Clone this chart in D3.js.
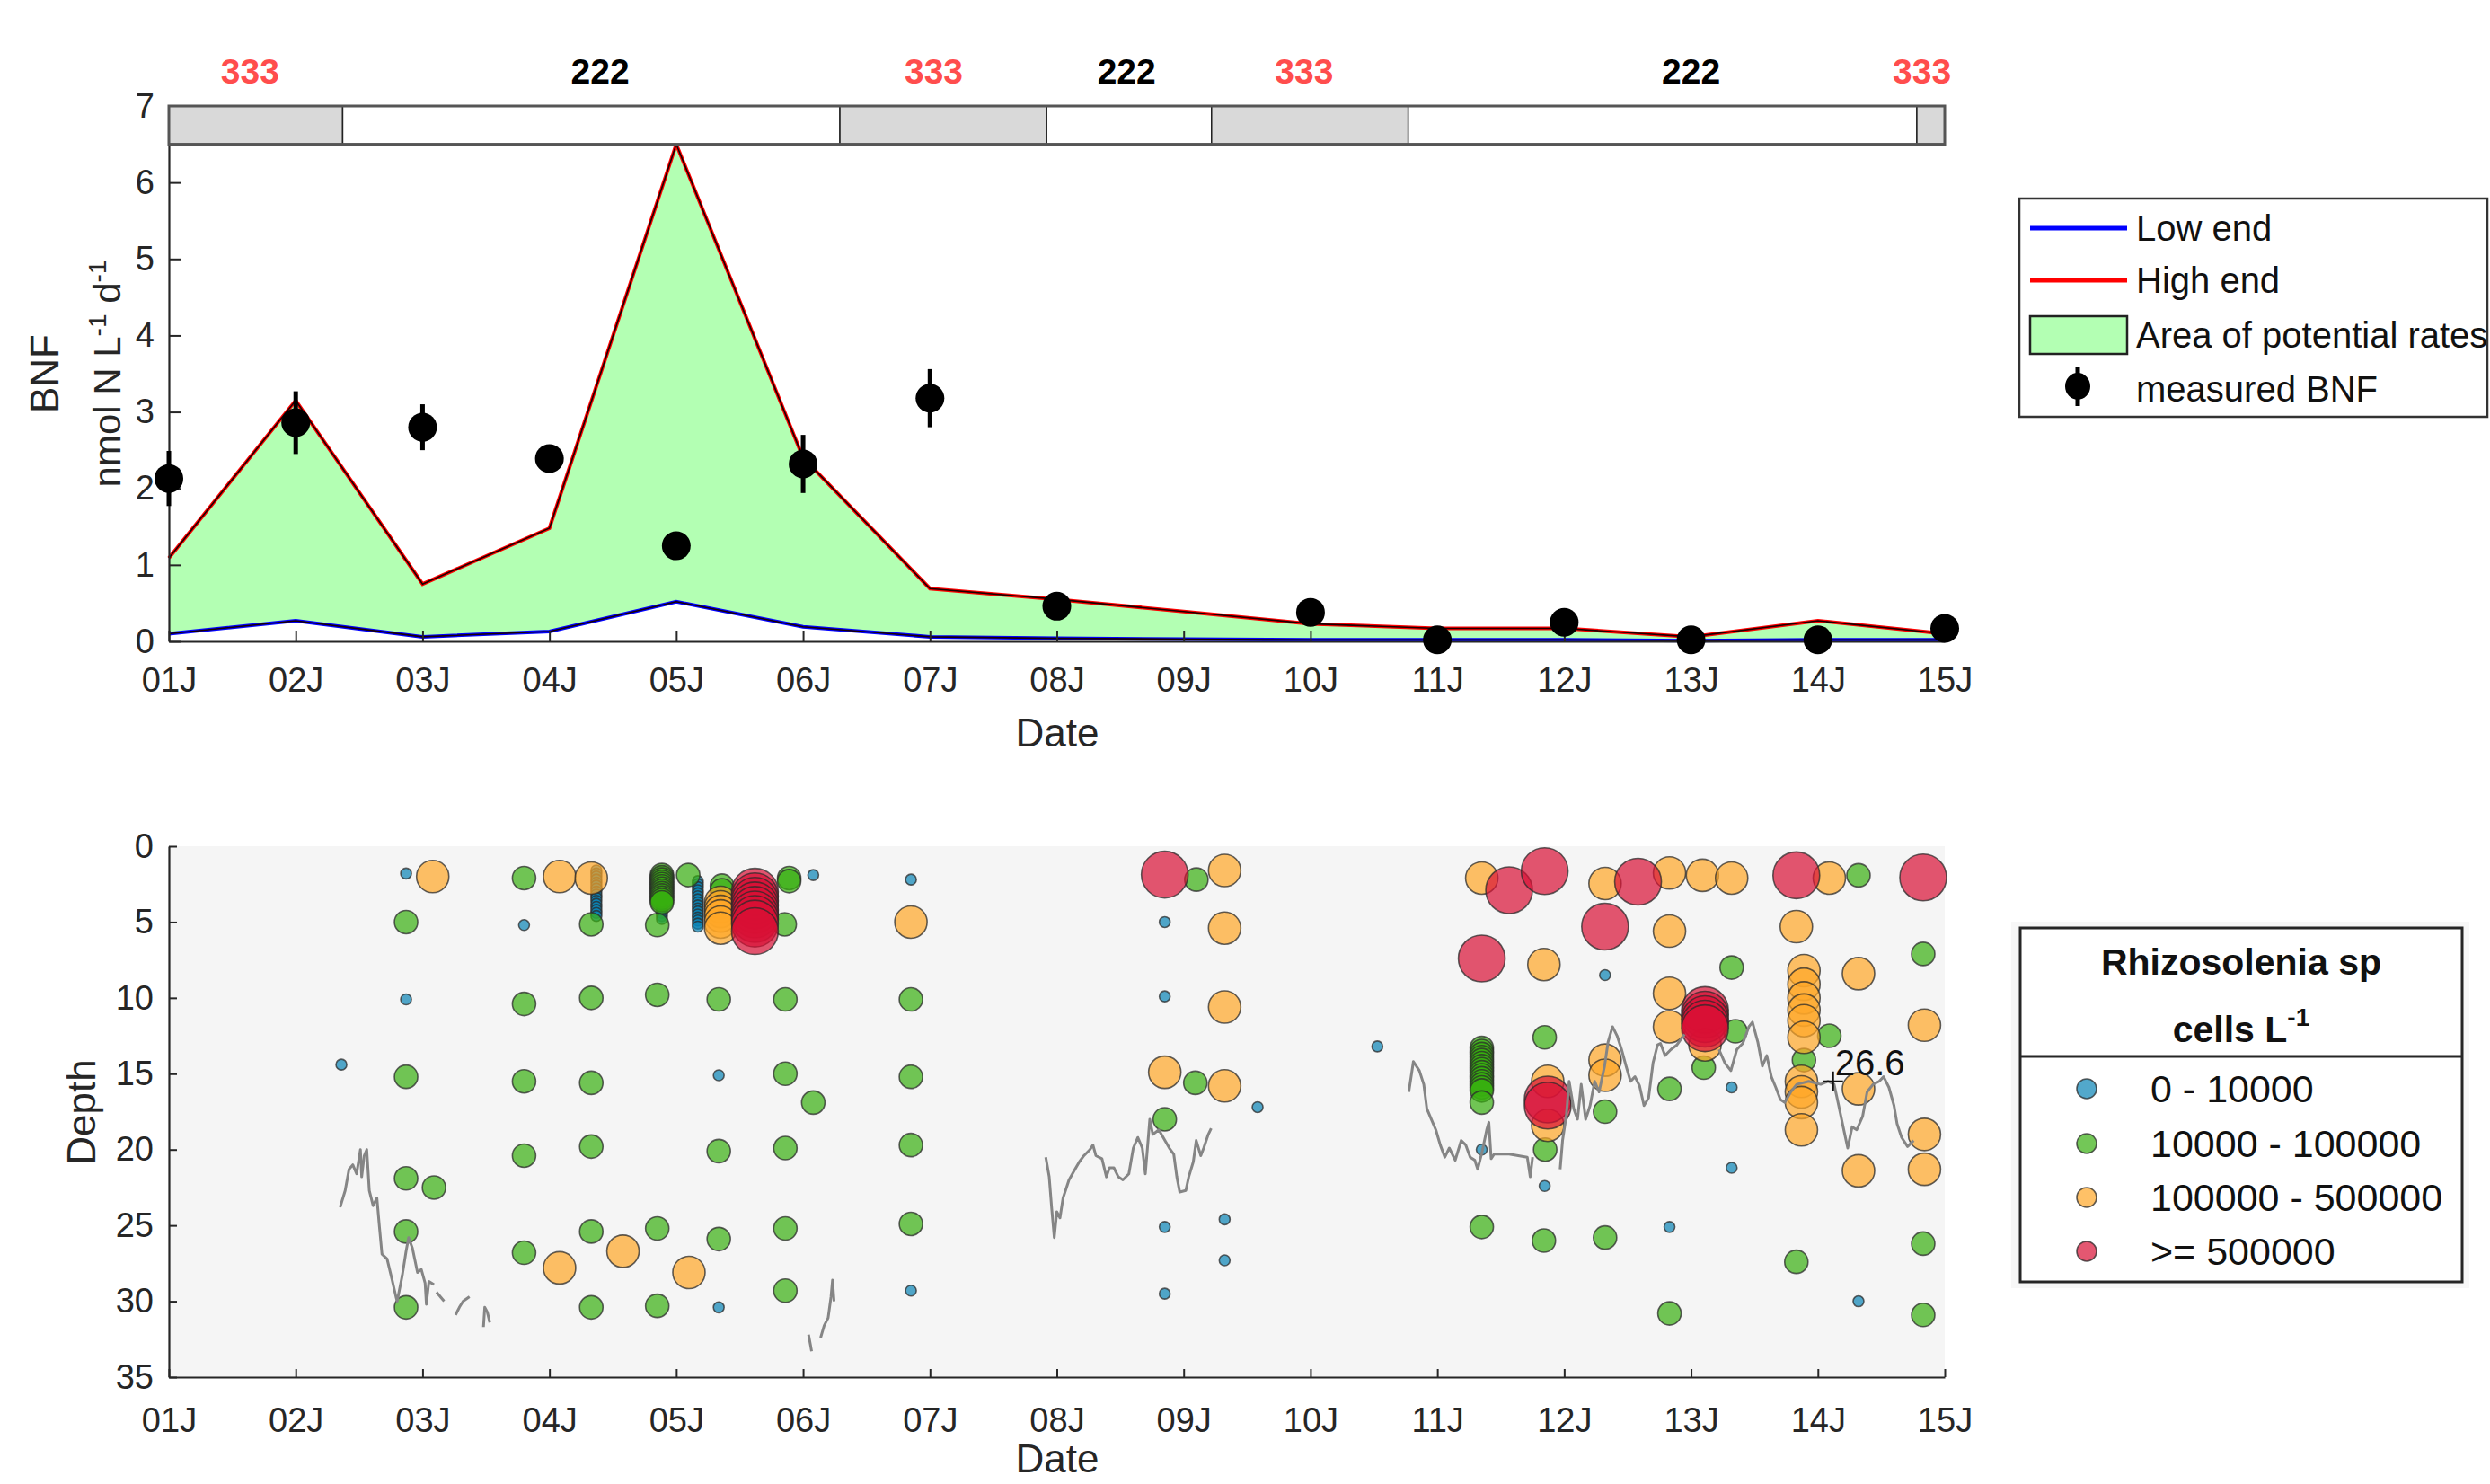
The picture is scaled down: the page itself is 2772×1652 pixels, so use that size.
<!DOCTYPE html>
<html>
<head>
<meta charset="utf-8">
<script src="https://cdn.jsdelivr.net/npm/d3@7"></script>
<style>
  html, body { margin: 0; padding: 0; background: #fff; }
  svg { display: block; }
</style>
</head>
<body>
<svg id="chart"></svg>
<script>
// ---- data ----
const dayLabels = ["01J", "02J", "03J", "04J", "05J", "06J", "07J", "08J", "09J", "10J", "11J", "12J", "13J", "14J", "15J"];
const rateDays = [0, 1, 2, 3, 4, 5, 6, 7, 8, 9, 10, 11, 12, 13, 14];
const highEnd = [1.09, 3.15, 0.75, 1.48, 6.50, 2.40, 0.69, 0.55, 0.39, 0.23, 0.17, 0.17, 0.06, 0.27, 0.10];
const lowEnd = [0.10, 0.27, 0.06, 0.13, 0.52, 0.19, 0.06, 0.04, 0.03, 0.02, 0.02, 0.02, 0.01, 0.02, 0.02];

const bnfDays = [0, 1, 2, 3, 4, 5, 6, 7, 9, 10, 11, 12, 13, 14];
const bnfMean = [2.13, 2.86, 2.80, 2.39, 1.25, 2.32, 3.18, 0.46, 0.38, 0.02, 0.25, 0.02, 0.02, 0.17];
const bnfErr = [0.36, 0.41, 0.30, 0.06, 0.05, 0.38, 0.38, 0.05, 0.05, 0.03, 0.05, 0.03, 0.03, 0.04];

// station zones shown in the strip above the BNF panel
const zoneStart = [0, 1.37, 5.29, 6.92, 8.22, 9.77, 13.78];
const zoneEnd = [1.37, 5.29, 6.92, 8.22, 9.77, 13.78, 14];
const zoneCode = ["333", "222", "333", "222", "333", "222", "333"];
const zoneLabelDay = [0.64, 3.40, 6.03, 7.55, 8.95, 12.0, 13.82];

// Rhizosolenia counts, [day, depth] per abundance class
const cellsLow = [
  [1.87, 1.8], [2.80, 5.2], [1.87, 10.1], [1.36, 14.4],
  [3.37, 1.6], [3.37, 1.8], [3.37, 2.0], [3.37, 2.2], [3.37, 2.4], [3.37, 2.6], [3.37, 2.8], [3.37, 3.0],
  [3.37, 3.2], [3.37, 3.4], [3.37, 3.6], [3.37, 3.8], [3.37, 4.0], [3.37, 4.2], [3.37, 4.4], [3.37, 4.6],
  [3.887, 3.8], [3.887, 4.0], [3.887, 4.2], [3.887, 4.4], [3.887, 4.6], [3.887, 4.8],
  [4.17, 2.3], [4.17, 2.5], [4.17, 2.7], [4.17, 2.9], [4.17, 3.1], [4.17, 3.3], [4.17, 3.5], [4.17, 3.7],
  [4.17, 3.9], [4.17, 4.1], [4.17, 4.3], [4.17, 4.5], [4.17, 4.7], [4.17, 4.9], [4.17, 5.1], [4.17, 5.3],
  [5.08, 1.9], [5.85, 2.2], [4.335, 15.1], [4.335, 30.4], [5.85, 29.3],
  [7.851, 5.0], [7.851, 9.9], [9.527, 13.2], [8.583, 17.2], [7.851, 25.1], [8.323, 24.6],
  [8.323, 27.3], [7.851, 29.5], [10.35, 20.0],
  [11.322, 8.5], [12.32, 15.9], [10.846, 22.4], [12.32, 21.2], [11.83, 25.1], [13.32, 30.0]
];
const cellsMid = [
  [2.80, 2.1], [1.87, 5.0], [3.33, 5.15], [2.80, 10.4], [3.33, 10.0], [1.87, 15.2], [2.80, 15.5],
  [3.33, 15.6], [2.80, 20.4], [3.33, 19.8], [1.87, 21.9], [2.09, 22.5], [1.87, 25.4], [2.80, 26.8],
  [3.33, 25.4], [1.87, 30.4], [3.33, 30.4],
  [3.887, 1.9], [3.887, 2.05], [3.887, 2.2], [3.887, 2.35], [3.887, 2.5], [3.887, 2.65], [3.887, 2.8],
  [3.887, 2.95], [3.887, 3.1], [3.887, 3.25], [3.887, 3.4], [3.887, 3.55], [3.887, 3.7],
  [3.85, 5.2], [4.094, 1.9], [4.36, 2.6], [4.36, 2.9], [4.89, 2.1], [4.89, 2.3], [4.855, 5.15],
  [3.85, 9.8], [4.335, 10.1], [4.86, 10.1], [5.85, 10.1], [4.86, 15.0], [5.08, 16.9], [5.85, 15.2],
  [4.335, 20.1], [4.86, 19.9], [5.85, 19.7], [3.85, 25.2], [4.335, 25.9], [4.86, 25.2], [5.85, 24.9],
  [3.85, 30.3], [4.86, 29.3],
  [8.10, 2.2], [8.092, 15.6], [7.851, 18.0],
  [10.35, 13.3], [10.35, 13.5], [10.35, 13.7], [10.35, 13.9], [10.35, 14.1], [10.35, 14.3], [10.35, 14.5],
  [10.35, 14.7], [10.35, 14.9], [10.35, 15.1], [10.35, 15.3], [10.35, 15.5], [10.35, 15.7], [10.35, 15.9],
  [10.35, 16.1], [10.35, 16.9], [10.35, 25.1],
  [13.32, 1.92], [12.32, 8.0], [13.83, 7.1], [12.35, 12.2], [12.1, 14.6], [11.83, 16.0],
  [13.09, 12.5], [12.89, 14.1], [10.846, 12.6], [11.322, 17.5], [10.85, 20.0], [10.84, 26.0],
  [11.322, 25.8], [12.83, 27.4], [13.83, 26.2], [11.83, 30.8], [13.83, 30.9]
];
const cellsHigh = [
  [2.08, 2.0], [3.08, 2.0], [3.33, 2.1], [3.08, 27.8], [3.58, 26.7],
  [4.35, 3.7], [4.35, 4.0], [4.35, 4.3], [4.35, 4.6], [4.35, 5.0], [4.35, 5.4],
  [5.85, 5.0], [4.10, 28.1],
  [8.323, 1.6], [8.323, 5.4], [8.323, 10.6], [7.851, 14.9], [8.323, 15.8], [10.35, 2.1],
  [11.322, 2.46], [11.83, 1.76], [12.09, 1.92], [12.32, 2.1], [13.09, 2.1], [11.83, 5.6],
  [12.83, 5.3], [10.84, 7.8],
  [12.89, 8.2], [12.89, 9.1], [12.89, 10.0], [12.89, 10.8], [12.89, 11.5], [12.89, 12.6],
  [12.87, 15.5], [12.87, 16.2], [12.87, 16.9], [12.87, 18.7],
  [13.32, 8.4], [11.83, 9.7], [11.83, 11.9], [12.11, 13.1], [13.32, 16.0], [13.84, 11.8],
  [13.84, 19.0], [13.32, 21.4], [13.84, 21.3], [11.322, 14.1], [11.322, 15.1],
  [10.87, 15.5], [10.87, 18.4]
];
const cellsBloom = [
  [7.851, 1.87], [10.566, 2.9], [10.35, 7.4],
  [4.62, 3.0], [4.62, 3.3], [4.62, 3.6], [4.62, 3.9], [4.62, 4.2], [4.62, 4.5], [4.62, 4.8],
  [4.62, 5.1], [4.62, 5.6],
  [10.846, 1.64], [11.582, 2.34], [12.83, 1.92], [13.83, 2.06], [11.322, 5.3],
  [12.11, 10.8], [12.11, 11.1], [12.11, 11.4], [12.11, 11.7], [12.11, 12.0],
  [10.87, 16.7], [10.87, 17.1]
];
const classNames = ["0 - 10000", "10000 - 100000", "100000 - 500000", ">= 500000"];

// depth of the 26.6 isopycnal, [day, depth], broken into traced pieces
const isoPieces = [
  [[1.35, 23.8], [1.39, 22.7], [1.42, 21.3], [1.45, 21.0], [1.48, 21.6], [1.51, 20.0], [1.52, 21.8],
   [1.54, 20.4], [1.56, 20.0], [1.58, 22.7], [1.61, 23.7], [1.64, 23.2], [1.66, 25.1], [1.68, 26.9],
   [1.72, 27.2], [1.76, 28.6], [1.79, 29.7], [1.80, 30.0], [1.84, 28.3], [1.87, 26.7], [1.89, 25.8],
   [1.92, 26.5], [1.96, 28.1], [1.99, 27.9], [2.02, 28.8], [2.03, 30.2], [2.05, 28.7], [2.09, 28.9]],
  [[2.11, 29.4], [2.17, 30.0]],
  [[2.26, 30.9], [2.29, 30.4], [2.32, 30.0], [2.37, 29.7]],
  [[2.48, 31.7], [2.49, 30.4], [2.51, 30.7], [2.53, 31.4]],
  [[5.043, 32.2], [5.067, 33.3]],
  [[5.138, 32.4], [5.166, 31.6], [5.197, 31.1], [5.22, 29.7], [5.232, 28.6], [5.244, 30.0]],
  [[6.913, 20.5], [6.94, 21.8], [6.96, 23.9], [6.98, 25.8], [7.0, 24.1], [7.025, 24.5], [7.049, 23.2],
   [7.096, 22.0], [7.143, 21.3], [7.178, 20.8], [7.214, 20.4], [7.261, 20.0], [7.285, 19.7],
   [7.308, 20.4], [7.356, 20.6], [7.391, 21.8], [7.415, 21.2], [7.45, 21.2], [7.485, 21.8],
   [7.521, 22.0], [7.568, 21.6], [7.603, 19.9], [7.639, 19.2], [7.674, 19.9], [7.698, 21.6],
   [7.733, 18.0], [7.757, 19.0], [7.804, 18.7], [7.839, 19.2], [7.887, 19.9], [7.922, 20.3],
   [7.946, 21.8], [7.969, 22.8], [8.017, 22.7], [8.04, 21.8], [8.076, 20.8], [8.099, 19.4],
   [8.135, 20.4], [8.158, 19.9], [8.194, 19.0], [8.217, 18.6]],
  [[9.775, 16.2], [9.811, 14.2], [9.858, 14.8], [9.893, 15.7], [9.917, 17.3], [9.952, 18.0],
   [9.988, 18.7], [10.023, 19.7], [10.059, 20.5], [10.094, 19.9], [10.141, 20.7], [10.188, 19.4],
   [10.224, 19.7], [10.259, 20.5], [10.295, 20.7], [10.318, 21.3], [10.354, 20.1], [10.389, 18.7],
   [10.406, 18.2], [10.424, 20.6], [10.448, 20.3], [10.566, 20.3], [10.709, 20.5], [10.732, 21.8],
   [10.751, 20.5]],
  [[10.968, 21.3], [10.987, 19.4], [11.016, 17.8], [11.039, 15.5], [11.075, 17.3], [11.105, 18.0],
   [11.134, 15.7], [11.169, 18.0], [11.204, 17.1], [11.24, 15.5], [11.275, 16.2], [11.318, 14.5],
   [11.346, 12.9], [11.381, 11.9], [11.417, 12.5], [11.452, 13.4], [11.488, 14.5], [11.523, 15.5],
   [11.558, 15.2], [11.594, 15.8], [11.629, 17.1], [11.665, 16.6], [11.70, 14.3], [11.736, 13.1],
   [11.759, 13.0], [11.795, 13.8], [11.842, 13.4], [11.889, 13.1], [11.948, 12.4]],
  [[12.22, 13.4], [12.267, 14.3], [12.314, 14.8], [12.361, 13.4], [12.408, 13.0], [12.456, 11.9],
   [12.484, 11.6], [12.526, 12.9], [12.562, 14.5], [12.597, 13.8], [12.633, 15.2], [12.668, 15.9],
   [12.704, 16.7], [12.739, 16.9], [12.786, 16.2], [12.833, 15.7], [12.928, 15.5], [13.022, 15.7],
   [13.081, 15.5], [13.128, 15.7], [13.164, 17.1], [13.199, 18.5], [13.235, 19.9], [13.27, 18.5],
   [13.306, 18.7], [13.353, 17.8], [13.388, 16.2], [13.435, 15.7], [13.483, 15.5], [13.518, 15.2],
   [13.56, 15.9], [13.60, 17.1], [13.624, 18.3], [13.66, 19.2], [13.707, 19.8], [13.754, 19.4]]
];
const isoLabel = { text: "26.6", day: 13.12, depth: 15.5 };

// ---- layout ----
const W = 2772, H = 1652;
const font = "'Liberation Sans', Arial, Helvetica, sans-serif";
const axisColor = "#262626";

const svg = d3.select("#chart")
  .attr("width", W)
  .attr("height", H)
  .attr("viewBox", `0 0 ${W} ${H}`)
  .style("font-family", font);

const x = d3.scaleLinear().domain([0, 14]).range([188, 2165]);
const yTop = d3.scaleLinear().domain([0, 7]).range([714, 118]);
const yBot = d3.scaleLinear().domain([0, 35]).range([942, 1533]);

function styleAxis(g, size) {
  g.selectAll("path.domain").attr("stroke", axisColor).attr("stroke-width", 2.2);
  g.selectAll(".tick line").attr("stroke", axisColor).attr("stroke-width", 2);
  g.selectAll(".tick text")
    .attr("fill", axisColor)
    .style("font-size", size + "px")
    .style("font-family", font);
}

// ================= top panel: BNF =================
const bnfPanel = svg.append("g").attr("class", "bnf");

const area = d3.area()
  .x((d, i) => x(rateDays[i]))
  .y0((d, i) => yTop(lowEnd[i]))
  .y1(d => yTop(d));

bnfPanel.append("path")
  .datum(highEnd)
  .attr("d", area)
  .attr("fill", "#b3ffb3");

const lineOf = arr => d3.line().x((d, i) => x(rateDays[i])).y(d => yTop(d))(arr);

[[highEnd, "#ff0000"], [lowEnd, "#0000ff"]].forEach(([arr, col]) => {
  bnfPanel.append("path").attr("d", lineOf(arr))
    .attr("fill", "none").attr("stroke", col).attr("stroke-width", 4);
  bnfPanel.append("path").attr("d", lineOf(arr))
    .attr("fill", "none").attr("stroke", "#1a0000").attr("stroke-width", 1.6);
});

// axes
bnfPanel.append("g")
  .attr("transform", `translate(0,${yTop(0)})`)
  .call(d3.axisBottom(x).tickValues(rateDays).tickFormat((d, i) => dayLabels[i])
    .tickSizeInner(-12).tickSizeOuter(0).tickPadding(29))
  .call(g => styleAxis(g, 38));

bnfPanel.append("g")
  .attr("transform", `translate(${x(0)},0)`)
  .call(d3.axisLeft(yTop).tickValues([0, 1, 2, 3, 4, 5, 6, 7]).tickFormat(d3.format("d"))
    .tickSizeInner(-14).tickSizeOuter(0).tickPadding(16))
  .call(g => styleAxis(g, 38));

// station strip between 6.5 and 7
const strip = bnfPanel.append("g");
strip.selectAll("rect.zone")
  .data(zoneCode)
  .join("rect")
  .attr("class", "zone")
  .attr("x", (d, i) => x(zoneStart[i]))
  .attr("y", yTop(7))
  .attr("width", (d, i) => x(zoneEnd[i]) - x(zoneStart[i]))
  .attr("height", yTop(6.5) - yTop(7))
  .attr("fill", d => d === "333" ? "#d9d9d9" : "#ffffff")
  .attr("stroke", "#222")
  .attr("stroke-width", 1.5);
strip.append("rect")
  .attr("x", x(0)).attr("y", yTop(7))
  .attr("width", x(14) - x(0)).attr("height", yTop(6.5) - yTop(7))
  .attr("fill", "none").attr("stroke", "#555").attr("stroke-width", 3);
strip.selectAll("text")
  .data(zoneCode)
  .join("text")
  .attr("x", (d, i) => x(zoneLabelDay[i]))
  .attr("y", 93)
  .attr("text-anchor", "middle")
  .style("font-size", "39px")
  .style("font-weight", "bold")
  .attr("fill", d => d === "333" ? "#ff4d4d" : "#000")
  .text(d => d);

// measured BNF with error bars
const bnf = bnfPanel.append("g");
bnf.selectAll("line")
  .data(bnfMean)
  .join("line")
  .attr("x1", (d, i) => x(bnfDays[i])).attr("x2", (d, i) => x(bnfDays[i]))
  .attr("y1", (d, i) => yTop(d - bnfErr[i])).attr("y2", (d, i) => yTop(d + bnfErr[i]))
  .attr("stroke", "#000").attr("stroke-width", 5);
bnf.selectAll("ellipse")
  .data(bnfMean)
  .join("ellipse")
  .attr("cx", (d, i) => x(bnfDays[i]))
  .attr("cy", d => yTop(d))
  .attr("rx", 16).attr("ry", 16)
  .attr("fill", "#000");

// labels
bnfPanel.append("text")
  .attr("transform", "translate(65,416) rotate(-90)")
  .attr("text-anchor", "middle")
  .style("font-size", "44px").attr("fill", axisColor)
  .text("BNF");
const unit = bnfPanel.append("text")
  .attr("transform", "translate(134,416) rotate(-90)")
  .attr("text-anchor", "middle")
  .style("font-size", "42px").attr("fill", axisColor);
unit.append("tspan").text("nmol N L");
unit.append("tspan").attr("dy", -16).style("font-size", "28px").text("-1");
unit.append("tspan").attr("dy", 16).text(" d");
unit.append("tspan").attr("dy", -16).style("font-size", "28px").text("-1");

bnfPanel.append("text")
  .attr("x", 1177).attr("y", 831)
  .attr("text-anchor", "middle")
  .style("font-size", "44px").attr("fill", axisColor)
  .text("Date");

// legend
const lg = svg.append("g").style("font-size", "40px");
lg.append("rect")
  .attr("x", 2248).attr("y", 221).attr("width", 521).attr("height", 243)
  .attr("fill", "#fff").attr("stroke", "#333").attr("stroke-width", 2.5);
lg.append("line").attr("x1", 2260).attr("x2", 2368).attr("y1", 254).attr("y2", 254)
  .attr("stroke", "#0000ff").attr("stroke-width", 5);
lg.append("line").attr("x1", 2260).attr("x2", 2368).attr("y1", 312).attr("y2", 312)
  .attr("stroke", "#ff0000").attr("stroke-width", 5);
lg.append("rect").attr("x", 2260).attr("y", 352).attr("width", 108).attr("height", 42)
  .attr("fill", "#b3ffb3").attr("stroke", "#222").attr("stroke-width", 2.5);
lg.append("line").attr("x1", 2313).attr("x2", 2313).attr("y1", 408).attr("y2", 452)
  .attr("stroke", "#000").attr("stroke-width", 5);
lg.append("ellipse").attr("cx", 2313).attr("cy", 430).attr("rx", 14).attr("ry", 15).attr("fill", "#000");
[["Low end", 254], ["High end", 312], ["Area of potential rates", 373], ["measured BNF", 433]].forEach(([t, yy]) => {
  lg.append("text").attr("x", 2378).attr("y", yy).attr("dy", "0.36em")
    .attr("fill", "#111").text(t);
});

// ================= bottom panel: depth scatter =================
const depthPanel = svg.append("g").attr("class", "depth");

depthPanel.append("rect")
  .attr("x", x(0)).attr("y", yBot(0))
  .attr("width", x(14) - x(0)).attr("height", yBot(35) - yBot(0))
  .attr("fill", "#f5f5f5");

depthPanel.append("g")
  .attr("transform", `translate(0,${yBot(35)})`)
  .call(d3.axisBottom(x).tickValues(rateDays).tickFormat((d, i) => dayLabels[i])
    .tickSizeInner(-9).tickSizeOuter(0).tickPadding(34))
  .call(g => styleAxis(g, 38));

depthPanel.append("g")
  .attr("transform", `translate(${x(0)},0)`)
  .call(d3.axisLeft(yBot).tickValues([0, 5, 10, 15, 20, 25, 30, 35])
    .tickSizeInner(-9).tickSizeOuter(0).tickPadding(17))
  .call(g => styleAxis(g, 38));

const classes = [
  { pts: cellsLow, r: 6, fill: "#0983b5" },
  { pts: cellsMid, r: 13, fill: "#37af0f" },
  { pts: cellsHigh, r: 18, fill: "#ffa626" },
  { pts: cellsBloom, r: 26, fill: "#d81034" }
];

classes.forEach(c => {
  depthPanel.append("g").selectAll("circle")
    .data(c.pts)
    .join("circle")
    .attr("cx", d => x(d[0]))
    .attr("cy", d => yBot(d[1]))
    .attr("r", c.r)
    .attr("fill", c.fill)
    .attr("fill-opacity", 0.7)
    .attr("stroke", "#2b2b2b")
    .attr("stroke-opacity", 0.75)
    .attr("stroke-width", 1.6);
});

const isoLine = d3.line().x(d => x(d[0])).y(d => yBot(d[1]));
depthPanel.append("g").selectAll("path")
  .data(isoPieces)
  .join("path")
  .attr("d", isoLine)
  .attr("fill", "none")
  .attr("stroke", "#858585")
  .attr("stroke-width", 3)
  .attr("stroke-linejoin", "round");

const lx = x(isoLabel.day), ly = yBot(isoLabel.depth);
depthPanel.append("path")
  .attr("d", `M${lx - 11},${ly}H${lx + 11}M${lx},${ly - 11}V${ly + 11}`)
  .attr("stroke", "#111").attr("stroke-width", 2);
depthPanel.append("text")
  .attr("x", lx + 2).attr("y", ly - 7)
  .style("font-size", "40px").attr("fill", "#111")
  .text(isoLabel.text);

depthPanel.append("text")
  .attr("transform", "translate(106,1238) rotate(-90)")
  .attr("text-anchor", "middle")
  .style("font-size", "44px").attr("fill", axisColor)
  .text("Depth");
depthPanel.append("text")
  .attr("x", 1177).attr("y", 1639)
  .attr("text-anchor", "middle")
  .style("font-size", "44px").attr("fill", axisColor)
  .text("Date");

// legend
const lb = svg.append("g");
lb.append("rect").attr("x", 2239).attr("y", 1026).attr("width", 510).attr("height", 408).attr("fill", "#f7f7f7");
lb.append("rect")
  .attr("x", 2249).attr("y", 1033).attr("width", 492).attr("height", 394)
  .attr("fill", "#fff").attr("stroke", axisColor).attr("stroke-width", 3);
lb.append("line").attr("x1", 2249).attr("x2", 2741).attr("y1", 1176).attr("y2", 1176)
  .attr("stroke", axisColor).attr("stroke-width", 3);
lb.append("text").attr("x", 2495).attr("y", 1070).attr("dy", "0.36em")
  .attr("text-anchor", "middle").style("font-size", "41px").style("font-weight", "bold")
  .attr("fill", "#111").text("Rhizosolenia sp");
const ttl = lb.append("text").attr("x", 2495).attr("y", 1145).attr("dy", "0.36em")
  .attr("text-anchor", "middle").style("font-size", "41px").style("font-weight", "bold")
  .attr("fill", "#111");
ttl.append("tspan").text("cells L");
ttl.append("tspan").attr("dy", -18).style("font-size", "28px").text("-1");

const entryY = [1212, 1273, 1333, 1393];
classNames.forEach((name, i) => {
  lb.append("circle").attr("cx", 2323).attr("cy", entryY[i]).attr("r", 11)
    .attr("fill", classes[i].fill).attr("fill-opacity", 0.7)
    .attr("stroke", "#2b2b2b").attr("stroke-opacity", 0.75).attr("stroke-width", 1.6);
  lb.append("text").attr("x", 2394).attr("y", entryY[i]).attr("dy", "0.36em")
    .style("font-size", "43px").attr("fill", "#111").text(name);
});
</script>
</body>
</html>
